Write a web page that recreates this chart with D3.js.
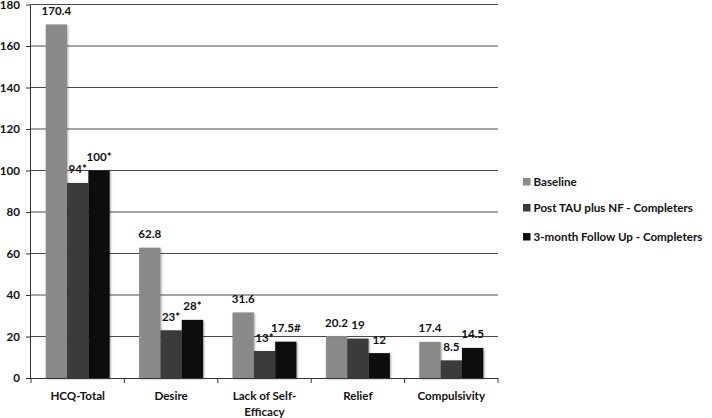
<!DOCTYPE html>
<html><head><meta charset="utf-8">
<script src="https://cdn.jsdelivr.net/npm/d3@7"></script>
<style>body{margin:0;background:#fff}svg{display:block}text{font-family:Lato,"Open Sans",sans-serif;font-weight:bold;fill:#111}</style>
</head><body>
<svg id="c" width="712" height="418"></svg>
<script>
const categories = [["HCQ-Total"],["Desire"],["Lack of Self-","Efficacy"],["Relief"],["Compulsivity"]];
const seriesNames = ["Baseline","Post TAU plus NF - Completers","3-month Follow Up - Completers"];
const baseline = [170.4, 62.8, 31.6, 20.2, 17.4];
const postTau = [94, 23, 13, 19, 8.5];
const followUp = [100, 28, 17.5, 12, 14.5];
const baselineLabels = ["170.4","62.8","31.6","20.2","17.4"];
const postLabels = ["94*","23*","13*","19","8.5"];
const followLabels = ["100*","28*","17.5#","12","14.5"];
const yTicks = [0,20,40,60,80,100,120,140,160,180];
const colors = ["#8a8a8a","#3a3a3a","#0f0f0f"];

const series = [baseline, postTau, followUp];
const labels = [baselineLabels, postLabels, followLabels];
const svg = d3.select("#c");
const FS = 11.6;
const x0 = 31, x1 = 498, yTop = 4.5, yBot = 378;
const x = d3.scaleBand().domain(d3.range(categories.length)).range([x0,x1]).paddingInner(0).paddingOuter(0);
const y = d3.scaleLinear().domain([0,180]).range([yBot,yTop]);
const groupW = x.bandwidth()*0.685;
const xs = d3.scaleBand().domain(d3.range(3)).range([0,groupW]);

const defs = svg.append("defs");
const f = defs.append("filter").attr("id","sh").attr("x","-20%").attr("y","-20%").attr("width","150%").attr("height","150%");
f.append("feGaussianBlur").attr("in","SourceAlpha").attr("stdDeviation",1.2).attr("result","b");
f.append("feOffset").attr("in","b").attr("dx",1).attr("dy",1).attr("result","o");
f.append("feComponentTransfer").attr("in","o").attr("result","o2").append("feFuncA").attr("type","linear").attr("slope",0.35);
const m = f.append("feMerge"); m.append("feMergeNode").attr("in","o2"); m.append("feMergeNode").attr("in","SourceGraphic");

// gridlines
svg.append("g").selectAll("line").data(yTicks.filter(t=>t>0)).join("line")
  .attr("x1",x0).attr("x2",x1).attr("y1",d=>y(d)).attr("y2",d=>y(d))
  .attr("stroke","#4a4a4a").attr("stroke-width",1);

// y axis
const ya = svg.append("g").attr("transform",`translate(${x0},0)`).call(d3.axisLeft(y).tickValues(yTicks).tickSize(5).tickPadding(6));
ya.select(".domain").attr("stroke","#333").attr("d",`M-0.5,${yBot}V${yTop}`);
ya.selectAll(".tick line").attr("stroke","#333");
ya.selectAll("text").attr("font-size",FS).style("font-family","Lato").style("font-weight","bold").attr("fill","#111");

// bars
const g = svg.append("g");
series.forEach((s,si)=>{
  g.append("g").selectAll("rect").data(s).join("rect")
   .attr("x",(d,i)=>x(i)+(x.bandwidth()-groupW)/2+xs(si))
   .attr("width",xs.bandwidth())
   .attr("y",d=>y(d)).attr("height",d=>yBot-y(d))
   .attr("fill",colors[si]).attr("filter","url(#sh)");
});
series.forEach((s,si)=>{
  g.append("g").selectAll("text").data(s).join("text")
   .attr("x",(d,i)=>x(i)+(x.bandwidth()-groupW)/2+xs(si)+xs.bandwidth()/2)
   .attr("y",d=>y(d)-9.5)
   .attr("text-anchor","middle").attr("font-size",FS)
   .text((d,i)=>labels[si][i]);
});

// x axis
svg.append("line").attr("x1",x0).attr("x2",x1).attr("y1",yBot+0.5).attr("y2",yBot+0.5).attr("stroke","#333");
svg.append("g").selectAll("line").data(d3.range(categories.length+1)).join("line")
  .attr("x1",i=>x0+i*x.bandwidth()).attr("x2",i=>x0+i*x.bandwidth())
  .attr("y1",yBot).attr("y2",yBot+5).attr("stroke","#333");
const cl = svg.append("g").selectAll("text").data(categories).join("text")
  .attr("x",(d,i)=>x(i)+x.bandwidth()/2).attr("y",400).attr("text-anchor","middle").attr("font-size",FS);
cl.selectAll("tspan").data(d=>d).join("tspan").attr("x",function(){return this.parentNode.getAttribute("x")}).attr("dy",(d,i)=>i?16:0).text(d=>d);

// legend
const lg = svg.append("g").selectAll("g").data(seriesNames).join("g")
  .attr("transform",(d,i)=>`translate(523,${[182,208,237][i]})`);
lg.append("rect").attr("x",0).attr("y",-4).attr("width",7.5).attr("height",7.5).attr("fill",(d,i)=>colors[i]);
lg.append("text").attr("x",10.5).attr("y",4).attr("font-size",FS).text(d=>d);
</script>
</body></html>
